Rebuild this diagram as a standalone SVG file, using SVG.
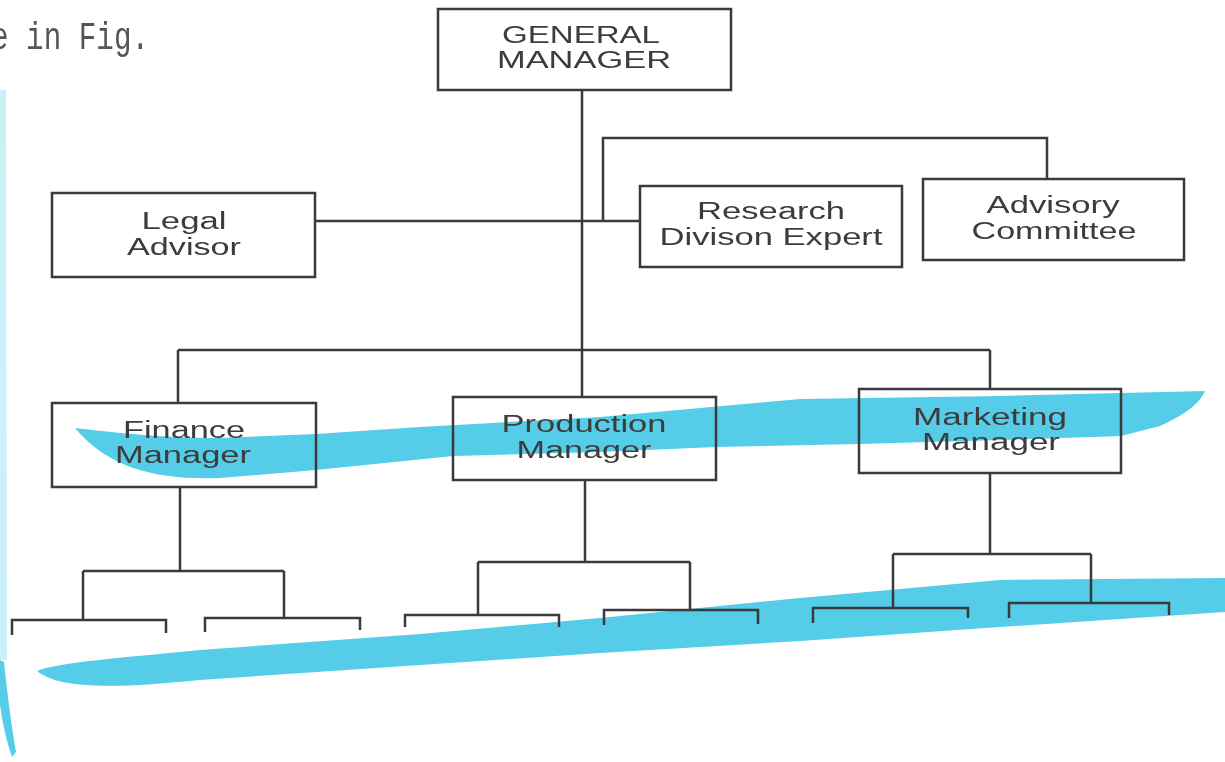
<svg xmlns="http://www.w3.org/2000/svg" width="1225" height="762" viewBox="0 0 1225 762">
<style>
.box{fill:none;stroke:#3a3a3a;stroke-width:2.5}
.ln{fill:none;stroke:#3a3a3a;stroke-width:2.5}
.t{font-family:"Liberation Sans",Arial,sans-serif;font-size:23px;fill:#3c3c3c;text-anchor:middle}
.hl{fill:#55cde8;mix-blend-mode:multiply}
</style>
<rect width="1225" height="762" fill="#ffffff"/>
<g id="highlights">
<path class="hl" d="M75,428 C110,432 160,438 220,438 L316,434 L420,427 L600,417 L800,399 L1000,396 L1205,391 C1200,402 1190,412 1160,426 L1121,436 L1000,440 L860,444 L716,447 L600,452 L453,456 L316,470 L220,478 C160,480 110,470 75,428 Z"/>
<path class="hl" d="M37,671 C60,662 120,658 200,650 L420,634 L600,618 L800,598 L1000,580 L1225,578 L1225,612 L1000,627 L800,641 L600,653 L420,665 L200,680 C120,688 60,690 37,671 Z"/>
<path class="hl" opacity="0.3" d="M0,90 L6,90 L7,660 L0,660 Z"/>
<path class="hl" d="M0,660 L4,662 C8,700 12,730 16,752 L12,757 C6,740 2,720 0,705 Z"/>
</g>
<text x="-9" y="49" font-family="Liberation Mono,Courier New,monospace" font-size="38" fill="#555555" textLength="158" lengthAdjust="spacingAndGlyphs">e in Fig.</text>
<g id="connectors">
<path class="ln" d="M582,90 V398"/>
<path class="ln" d="M315,221 H640"/>
<path class="ln" d="M603,221 V138 H1047 V179"/>
<path class="ln" d="M178,350 H990 M178,350 V403 M990,350 V389"/>
<path class="ln" d="M180,487 V571 M83,571 H284 M83,571 V620 M284,571 V618"/>
<path class="ln" d="M12,635 V620 H166 V633 M205,632 V618 H360 V630"/>
<path class="ln" d="M585,480 V562 M478,562 H690 M478,562 V615 M690,562 V611"/>
<path class="ln" d="M405,627 V615 H559 V627 M604,625 V610 H758 V624"/>
<path class="ln" d="M990,473 V554 M893,554 H1091 M893,554 V608 M1091,554 V604"/>
<path class="ln" d="M813,623 V608 H968 V618 M1009,618 V603 H1169 V615"/>
</g>
<g id="general-manager">
<rect class="box" x="438" y="9" width="293" height="81"/>
<text class="t" x="581" y="43" textLength="158" lengthAdjust="spacingAndGlyphs">GENERAL</text>
<text class="t" x="584" y="68" textLength="174" lengthAdjust="spacingAndGlyphs">MANAGER</text>
</g>
<g id="legal-advisor">
<rect class="box" x="52" y="193" width="263" height="84"/>
<text class="t" x="184" y="229" textLength="85" lengthAdjust="spacingAndGlyphs">Legal</text>
<text class="t" x="184" y="255" textLength="114" lengthAdjust="spacingAndGlyphs">Advisor</text>
</g>
<g id="research-division-expert">
<rect class="box" x="640" y="186" width="262" height="81"/>
<text class="t" x="771" y="219" textLength="148" lengthAdjust="spacingAndGlyphs">Research</text>
<text class="t" x="771" y="245" textLength="223" lengthAdjust="spacingAndGlyphs">Divison Expert</text>
</g>
<g id="advisory-committee">
<rect class="box" x="923" y="179" width="261" height="81"/>
<text class="t" x="1053" y="213" textLength="133" lengthAdjust="spacingAndGlyphs">Advisory</text>
<text class="t" x="1054" y="239" textLength="165" lengthAdjust="spacingAndGlyphs">Committee</text>
</g>
<g id="finance-manager">
<rect class="box" x="52" y="403" width="264" height="84"/>
<text class="t" x="184" y="438" textLength="122" lengthAdjust="spacingAndGlyphs">Finance</text>
<text class="t" x="183" y="463" textLength="136" lengthAdjust="spacingAndGlyphs">Manager</text>
</g>
<g id="production-manager">
<rect class="box" x="453" y="397" width="263" height="83"/>
<text class="t" x="584" y="432" textLength="165" lengthAdjust="spacingAndGlyphs">Production</text>
<text class="t" x="584" y="458" textLength="135" lengthAdjust="spacingAndGlyphs">Manager</text>
</g>
<g id="marketing-manager">
<rect class="box" x="859" y="389" width="262" height="84"/>
<text class="t" x="990" y="425" textLength="154" lengthAdjust="spacingAndGlyphs">Marketing</text>
<text class="t" x="991" y="450" textLength="138" lengthAdjust="spacingAndGlyphs">Manager</text>
</g>
</svg>
